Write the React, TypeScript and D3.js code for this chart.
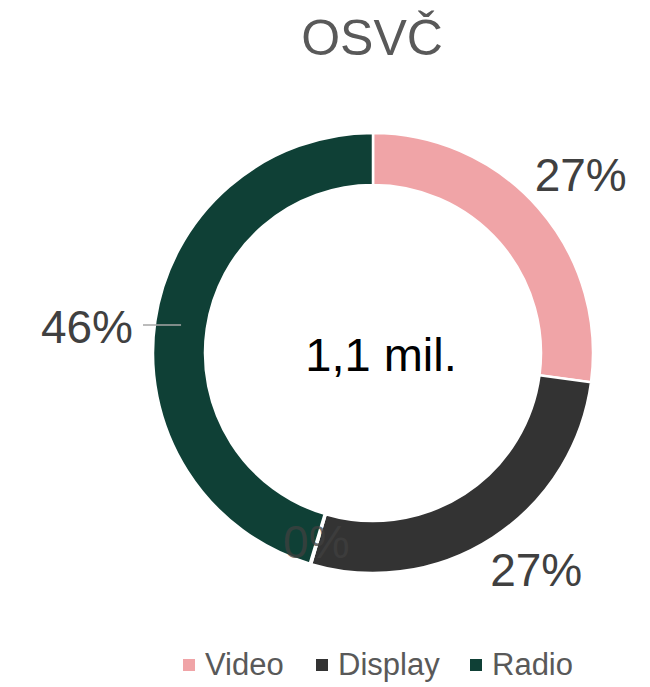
import React from 'react';
import * as d3 from 'd3';

const categories = ['Video', 'Display', 'Other', 'Radio'];
const values = [27.2, 27.5, 0.1, 45.5];
const labels = ['27%', '27%', '0%', '46%'];
const legendItems = ['Video', 'Display', 'Radio'];
const colors: Record<string, string> = {
  Video: '#F0A4A7',
  Display: '#333333',
  Other: '#7f7f7f',
  Radio: '#0F4036',
};

const W = 650;
const H = 687;
const cx = 373;
const cy = 353;
const outerR = 220;
const innerR = 168;

export default function App() {
  const pie = d3.pie<number>().sort(null).value((d) => d);
  const arcs = pie(values);
  const arc = d3.arc<d3.PieArcDatum<number>>().innerRadius(innerR).outerRadius(outerR);
  const font = '"Liberation Sans", Arial, sans-serif';

  // label placement for each slice
  const labelPos = arcs.map((a, i) => {
    const mid = (a.startAngle + a.endAngle) / 2;
    const r = i === 3 ? 290 : i === 2 ? 196 : 272;
    return {
      x: Math.sin(mid) * r,
      y: -Math.cos(mid) * r,
      mid,
    };
  });
  // small nudges so labels sit where the original put them
  const nudge = [
    [3, 17],
    [15, 5],
    [-1, 17],
    [0, 0],
  ];

  const legendX = [183, 316, 470];

  return (
    <svg width={W} height={H} style={{ position: 'absolute', left: 0, top: 0 }} fontFamily={font}>
      <rect width={W} height={H} fill="#fff" />
      <text x={cx - 1} y={55} textAnchor="middle" fontSize={50} fill="#595959">OSVČ</text>
      <g transform={`translate(${cx},${cy})`}>
        {arcs.map((a, i) => (
          <path key={categories[i]} d={arc(a) || ''} fill={colors[categories[i]]} stroke="#fff" strokeWidth={2.5} />
        ))}
        {/* leader line for Radio */}
        {(() => {
          const m = labelPos[3].mid;
          const y = -28;
          return <line x1={-230} x2={Math.sin(m) * 194} y1={y} y2={y} stroke="#a6a6a6" strokeWidth={1.5} />;
        })()}
        {labelPos.map((p, i) => (
          <text
            key={'l' + i}
            x={i === 3 ? -240 : p.x + nudge[i][0]}
            y={i === 3 ? -10 : p.y + nudge[i][1]}
            textAnchor={i === 3 ? 'end' : 'middle'}
            fontSize={46}
            fill="#404040"
            fillOpacity={i === 2 ? 0.75 : 1}
          >
            {labels[i]}
          </text>
        ))}
        <text x={8} y={18} textAnchor="middle" fontSize={47} fill="#000">1,1 mil.</text>
      </g>
      {legendItems.map((name, i) => (
        <g key={name} transform={`translate(${legendX[i]},0)`}>
          <rect x={0} y={659} width={12} height={12} fill={colors[name]} />
          <text x={22} y={675} fontSize={31} fill="#595959">{name}</text>
        </g>
      ))}
    </svg>
  );
}
